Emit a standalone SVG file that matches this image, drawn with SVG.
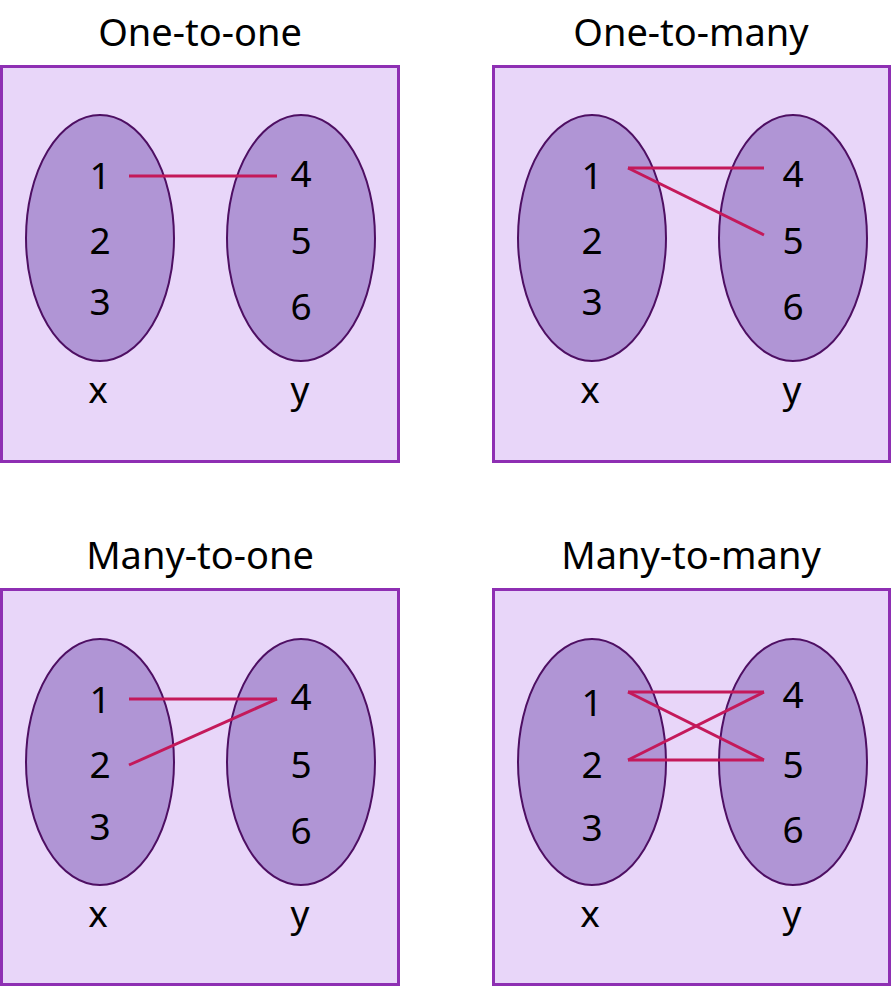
<svg xmlns="http://www.w3.org/2000/svg" width="892" height="988" viewBox="0 0 892 988">
<style>
.box{fill:#e8d6f9;stroke:#8e2fb3;stroke-width:3}
.el{fill:#b095d5;stroke:#4e0f63;stroke-width:2}
.t{font-family:"Noto Sans","DejaVu Sans",sans-serif;font-size:38px;fill:#000;text-anchor:middle}
.n{font-family:"Noto Sans","DejaVu Sans",sans-serif;font-size:37px;fill:#000;text-anchor:middle}
.c{stroke:#c4195a;stroke-width:3;fill:none}
</style>
<rect width="892" height="988" fill="#fff"/>
<g id="one-to-one">
<text class="t" x="200" y="46">One-to-one</text>
<rect class="box" x="1.5" y="66.5" width="397" height="395"/>
<ellipse class="el" cx="100" cy="238" rx="74" ry="123"/>
<ellipse class="el" cx="301" cy="238" rx="74" ry="123"/>
<text class="n" x="100" y="189">1</text><text class="n" x="100" y="254">2</text><text class="n" x="100" y="315">3</text>
<text class="n" x="301" y="187">4</text><text class="n" x="301" y="254">5</text><text class="n" x="301" y="320">6</text>
<text class="n" x="98" y="403">x</text><text class="n" x="300" y="403">y</text>
</g>
<g id="one-to-many">
<text class="t" x="691" y="46">One-to-many</text>
<rect class="box" x="493.5" y="66.5" width="396" height="395"/>
<ellipse class="el" cx="592" cy="238" rx="74" ry="123"/>
<ellipse class="el" cx="793" cy="238" rx="74" ry="123"/>
<text class="n" x="592" y="189">1</text><text class="n" x="592" y="254">2</text><text class="n" x="592" y="315">3</text>
<text class="n" x="793" y="187">4</text><text class="n" x="793" y="254">5</text><text class="n" x="793" y="320">6</text>
<text class="n" x="590" y="403">x</text><text class="n" x="792" y="403">y</text>
</g>
<g id="many-to-one">
<text class="t" x="200" y="569">Many-to-one</text>
<rect class="box" x="1.5" y="589.5" width="397" height="395"/>
<ellipse class="el" cx="100" cy="762" rx="74" ry="123"/>
<ellipse class="el" cx="301" cy="762" rx="74" ry="123"/>
<text class="n" x="100" y="713">1</text><text class="n" x="100" y="778">2</text><text class="n" x="100" y="840">3</text>
<text class="n" x="301" y="710">4</text><text class="n" x="301" y="778">5</text><text class="n" x="301" y="844">6</text>
<text class="n" x="98" y="927">x</text><text class="n" x="300" y="927">y</text>
</g>
<g id="many-to-many">
<text class="t" x="691" y="569">Many-to-many</text>
<rect class="box" x="493.5" y="589.5" width="396" height="395"/>
<ellipse class="el" cx="592" cy="762" rx="74" ry="123"/>
<ellipse class="el" cx="793" cy="762" rx="74" ry="123"/>
<text class="n" x="592" y="716">1</text><text class="n" x="592" y="778">2</text><text class="n" x="592" y="841">3</text>
<text class="n" x="793" y="708">4</text><text class="n" x="793" y="778">5</text><text class="n" x="793" y="843">6</text>
<text class="n" x="590" y="927">x</text><text class="n" x="792" y="927">y</text>
</g>
<g id="connectors">
<line class="c" x1="129" y1="176" x2="277" y2="176"/>
<line class="c" x1="628" y1="168" x2="764" y2="168"/>
<line class="c" x1="628" y1="168" x2="764" y2="235"/>
<line class="c" x1="129" y1="699" x2="277" y2="699"/>
<line class="c" x1="129" y1="765" x2="277" y2="699"/>
<line class="c" x1="628" y1="692" x2="764" y2="692"/>
<line class="c" x1="628" y1="692" x2="764" y2="760"/>
<line class="c" x1="628" y1="760" x2="764" y2="692"/>
<line class="c" x1="628" y1="760" x2="764" y2="760"/>
</g>
</svg>
